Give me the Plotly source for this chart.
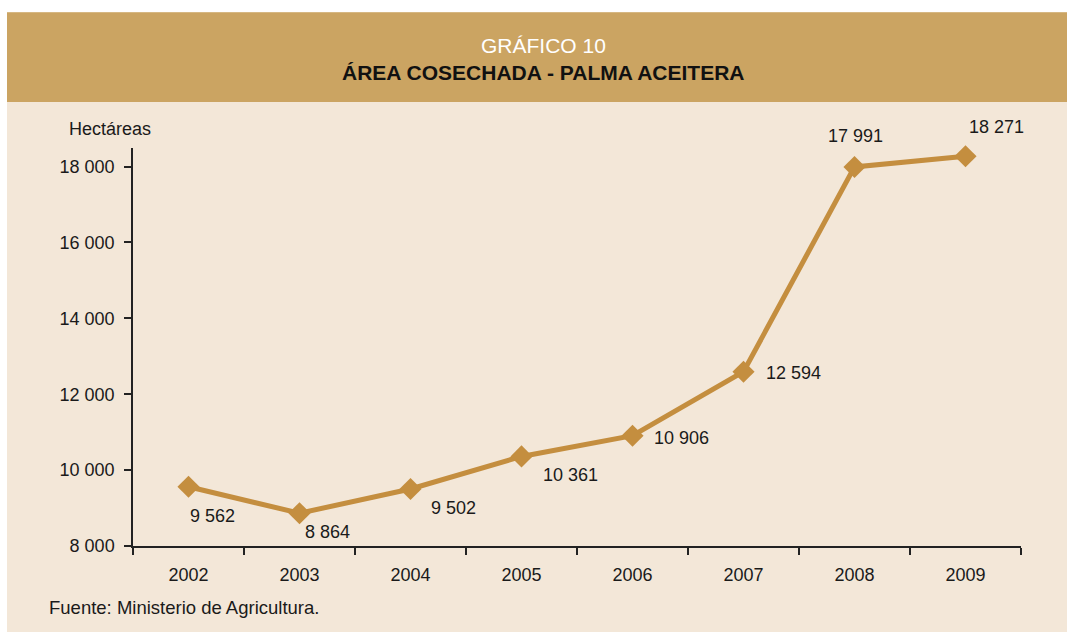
import plotly.graph_objects as go

years = ["2002", "2003", "2004", "2005", "2006", "2007", "2008", "2009"]
area = [9562, 8864, 9502, 10361, 10906, 12594, 17991, 18271]
y_ticks = [8000, 10000, 12000, 14000, 16000, 18000]
# label offsets (px) relative to each point: (dx, dy up)
label_dx = [24, 28, 43, 49, 49, 50, 1, 31]
label_dy = [-29, -19, -19, -19, -2, -1, 31, 29]

W, H = 1067, 632
LINE = "#C48E3F"
TAN = "#CBA462"
BEIGE = "#F3E7D8"
FONT = "Liberation Sans, Arial, sans-serif"
TXT = "#1a1a1a"

L, R, T, B = 133, 1067 - 1021, 148, 632 - 546.5
PW, PH = W - L - R, H - T - B


def px_x(x):
    return (x - L) / PW


def px_y(y):
    return (H - B - y) / PH


def fmt(v):
    return f"{v:,}".replace(",", " ")


fig = go.Figure()
fig.add_trace(go.Scatter(
    x=years, y=area, mode="lines+markers",
    line=dict(color=LINE, width=5),
    marker=dict(symbol="diamond", size=17, color=LINE),
    hoverinfo="skip", showlegend=False, cliponaxis=False,
))

annotations = []
for i, (v, dx, dy) in enumerate(zip(area, label_dx, label_dy)):
    annotations.append(dict(
        x=i, y=v, xref="x", yref="y", text=fmt(v), showarrow=False,
        xshift=dx, yshift=dy, xanchor="center", yanchor="middle",
        font=dict(family=FONT, size=18, color=TXT),
    ))

annotations += [
    dict(x=px_x(543), y=px_y(45), xref="paper", yref="paper", text="GRÁFICO 10",
         showarrow=False, xanchor="center", yanchor="middle",
         font=dict(family=FONT, size=21, color="white")),
    dict(x=px_x(543), y=px_y(72), xref="paper", yref="paper",
         text="<b>ÁREA COSECHADA - PALMA ACEITERA</b>",
         showarrow=False, xanchor="center", yanchor="middle",
         font=dict(family=FONT, size=21, color="#111111")),
    dict(x=px_x(67), y=px_y(129), xref="paper", yref="paper", text="Hectáreas",
         showarrow=False, xanchor="left", yanchor="middle",
         font=dict(family=FONT, size=18, color=TXT)),
    dict(x=px_x(47), y=px_y(608), xref="paper", yref="paper",
         text="Fuente: Ministerio de Agricultura.",
         showarrow=False, xanchor="left", yanchor="middle",
         font=dict(family=FONT, size=18.5, color=TXT)),
]

shapes = [
    dict(type="rect", xref="paper", yref="paper", x0=px_x(7), x1=px_x(W + 2),
         y0=px_y(H + 2), y1=px_y(12), fillcolor=BEIGE, line=dict(width=0), layer="below"),
    dict(type="rect", xref="paper", yref="paper", x0=px_x(7), x1=px_x(W + 2),
         y0=px_y(102), y1=px_y(12), fillcolor=TAN, line=dict(width=0), layer="below"),
]

fig.update_layout(
    width=W, height=H,
    margin=dict(l=L, r=R, t=T, b=B, pad=0),
    paper_bgcolor="white", plot_bgcolor="rgba(0,0,0,0)",
    font=dict(family=FONT, size=18, color=TXT),
    shapes=shapes, annotations=annotations,
    xaxis=dict(
        type="category", range=[-0.5, 7.5], tickson="boundaries",
        showline=True, linecolor="#222222", linewidth=1.5,
        ticks="outside", ticklen=7, tickcolor="#222222", tickwidth=1.5,
        showgrid=False, zeroline=False, ticklabelstandoff=12,
        tickfont=dict(family=FONT, size=18, color=TXT),
    ),
    yaxis=dict(
        range=[8000, 18490], tickvals=y_ticks, ticktext=[fmt(v) for v in y_ticks],
        showline=True, linecolor="#222222", linewidth=1.5,
        ticks="outside", ticklen=7, tickcolor="#222222", tickwidth=1.5,
        showgrid=False, zeroline=False, ticklabelstandoff=6,
        tickfont=dict(family=FONT, size=18, color=TXT),
    ),
)

fig.write_html(
    "out.html",
    config={"displayModeBar": False},
    post_script="document.body.style.margin='0';document.body.style.overflow='hidden';",
)
